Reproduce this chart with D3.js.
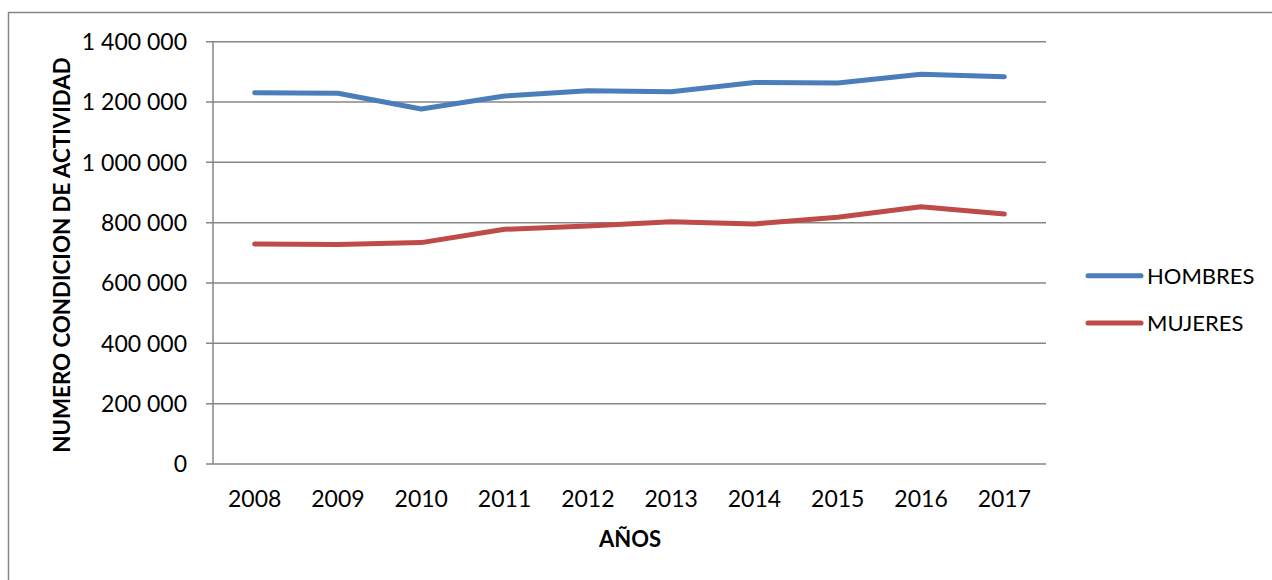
<!DOCTYPE html>
<html>
<head>
<meta charset="utf-8">
<script src="https://cdn.jsdelivr.net/npm/d3@7/dist/d3.min.js"></script>
<style>
  html, body { margin: 0; padding: 0; background: #fff; }
  svg { display: block; font-family: Lato, "Open Sans", sans-serif; }
</style>
</head>
<body>
<svg id="chart" width="1272" height="580"></svg>
<script>
const years = ["2008","2009","2010","2011","2012","2013","2014","2015","2016","2017"];
const hombres = [1231000, 1229000, 1177000, 1220000, 1237000, 1234000, 1265000, 1263000, 1292000, 1284000];
const mujeres = [729000, 728000, 734000, 778000, 789000, 803000, 796000, 818000, 853000, 829000];
const yTicks = [0, 200000, 400000, 600000, 800000, 1000000, 1200000, 1400000];
const seriesNames = ["HOMBRES", "MUJERES"];
const seriesColors = ["#4A7EBB", "#BE4B48"];
const xTitle = "AÑOS";
const yTitle = "NUMERO CONDICION DE ACTIVIDAD";

const svg = d3.select("#chart");
const W = 1272, H = 580;
const plot = { left: 213, right: 1046, top: 41.7, bottom: 464 };

// outer frame
svg.append("rect")
  .attr("x", 8.5).attr("y", 12.5)
  .attr("width", W + 20).attr("height", H + 20)
  .attr("fill", "none").attr("stroke", "#868686").attr("stroke-width", 1.5);

const x = d3.scaleBand().domain(years).range([plot.left, plot.right]).padding(0);
const y = d3.scaleLinear().domain([0, 1400000]).range([plot.bottom, plot.top]);

const fmt = v => d3.format(",")(v).replace(/,/g, " ");

// gridlines
svg.append("g").selectAll("line").data(yTicks).join("line")
  .attr("x1", plot.left - 7).attr("x2", plot.right)
  .attr("y1", d => y(d)).attr("y2", d => y(d))
  .attr("stroke", "#868686").attr("stroke-width", 1.5);

// y axis line
svg.append("line")
  .attr("x1", plot.left).attr("x2", plot.left)
  .attr("y1", plot.top).attr("y2", plot.bottom)
  .attr("stroke", "#868686").attr("stroke-width", 1.5);

// y tick labels
svg.append("g").selectAll("text").data(yTicks).join("text")
  .attr("x", 187).attr("y", d => y(d))
  .attr("dy", "0.36em")
  .attr("text-anchor", "end")
  .attr("font-size", 23).attr("fill", "#000")
  .text(fmt);

// x tick labels
svg.append("g").selectAll("text").data(years).join("text")
  .attr("x", d => x(d) + x.bandwidth() / 2).attr("y", 507)
  .attr("text-anchor", "middle")
  .attr("font-size", 23).attr("fill", "#000")
  .text(d => d);

// axis titles
svg.append("text")
  .attr("x", 630).attr("y", 547)
  .attr("text-anchor", "middle")
  .attr("font-size", 22).attr("font-weight", "bold")
  .text(xTitle);

svg.append("text")
  .attr("transform", "translate(70,255) rotate(-90)")
  .attr("text-anchor", "middle")
  .attr("font-size", 22.3).attr("font-weight", "bold")
  .text(yTitle);

// lines
const line = d3.line()
  .x((d, i) => x(years[i]) + x.bandwidth() / 2)
  .y(d => y(d));

[hombres, mujeres].forEach((s, i) => {
  svg.append("path")
    .datum(s)
    .attr("d", line)
    .attr("fill", "none")
    .attr("stroke", seriesColors[i])
    .attr("stroke-width", 5)
    .attr("stroke-linecap", "round")
    .attr("stroke-linejoin", "round");
});

// legend
const legY = [275.7, 323];
seriesNames.forEach((n, i) => {
  svg.append("line")
    .attr("x1", 1088).attr("x2", 1141)
    .attr("y1", legY[i]).attr("y2", legY[i])
    .attr("stroke", seriesColors[i]).attr("stroke-width", 5)
    .attr("stroke-linecap", "round");
  svg.append("text")
    .attr("x", 1147).attr("y", legY[i])
    .attr("dy", "0.36em")
    .attr("font-size", 22).attr("fill", "#000")
    .text(n);
});
</script>
</body>
</html>
